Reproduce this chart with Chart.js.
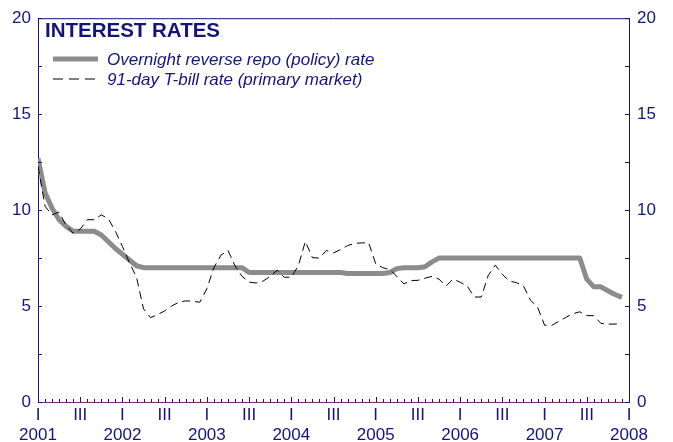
<!DOCTYPE html>
<html><head><meta charset="utf-8">
<script src="https://cdn.jsdelivr.net/npm/chart.js@4.4.1/dist/chart.umd.min.js"></script>
<style>html,body{margin:0;padding:0;background:#fff;overflow:hidden}#wrap{width:673px;height:442px;position:relative}canvas{display:block}</style>
</head><body><div id="wrap"><canvas id="c" width="673" height="442" style="width:673px;height:442px"></canvas></div>
<script>
// Monthly observations, Jan 2001 .. Dec 2007
const years = ['2001','2002','2003','2004','2005','2006','2007','2008'];
const halfYearLabels = ['I', 'III'];
const yTicks = [0, 5, 10, 15, 20];
const titleText = 'INTEREST RATES';
const seriesNames = ['Overnight reverse repo (policy) rate', '91-day T-bill rate (primary market)'];

const policyRate = [
  12.7, 10.9, 10.1, 9.5, 9.15, 8.9, 8.9, 8.9, 8.9, 8.7, 8.35, 8.0,
  7.7, 7.4, 7.1, 7.0, 7.0, 7.0, 7.0, 7.0, 7.0, 7.0, 7.0, 7.0,
  7.0, 7.0, 7.0, 7.0, 7.0, 7.0, 6.75, 6.75, 6.75, 6.75, 6.75, 6.75,
  6.75, 6.75, 6.75, 6.75, 6.75, 6.75, 6.75, 6.75, 6.7, 6.7, 6.7, 6.7,
  6.7, 6.7, 6.75, 6.95, 7.0, 7.0, 7.0, 7.05, 7.3, 7.5, 7.5, 7.5,
  7.5, 7.5, 7.5, 7.5, 7.5, 7.5, 7.5, 7.5, 7.5, 7.5, 7.5, 7.5,
  7.5, 7.5, 7.5, 7.5, 7.5, 7.5, 6.4, 6.0, 6.0, 5.8, 5.6, 5.45
];
const tbillRate = [
  12.3, 10.2, 9.75, 9.9, 9.2, 8.8, 9.0, 9.5, 9.5, 9.75, 9.55, 8.9,
  8.1, 7.26, 6.5, 4.85, 4.4, 4.55, 4.75, 5.0, 5.2, 5.27, 5.25, 5.2,
  5.9, 7.0, 7.65, 7.9, 7.1, 6.55, 6.25, 6.2, 6.3, 6.55, 6.87, 6.5,
  6.5, 7.1, 8.37, 7.52, 7.5, 7.9, 7.77, 7.94, 8.15, 8.27, 8.29, 8.3,
  7.2, 7.0, 6.9, 6.55, 6.15, 6.33, 6.34, 6.45, 6.55, 6.4, 6.04, 6.41,
  6.24, 6.05, 5.47, 5.47, 6.6, 7.13, 6.65, 6.3, 6.22, 6.05, 5.3, 4.95,
  4.0, 3.99, 4.2, 4.4, 4.6, 4.7, 4.5, 4.5, 4.1, 4.06, 4.06, 4.1
];

const NAVY = '#14147a';
const FONT = '"Liberation Sans", Arial, sans-serif';
const toXY = arr => arr.map((v, i) => ({x: i, y: v}));

const decor = {
  id: 'decor',
  afterDraw(chart) {
    const ctx = chart.ctx, a = chart.chartArea;
    const xs = chart.scales.x, yl = chart.scales.y;
    ctx.save();
    ctx.strokeStyle = NAVY; ctx.lineWidth = 1;
    ctx.beginPath(); ctx.moveTo(a.left, a.top + 0.5); ctx.lineTo(a.right, a.top + 0.5); ctx.stroke();
    for (let v = 0; v <= 20; v += 2.5) {
      const py = Math.round(yl.getPixelForValue(v)) + 0.5;
      ctx.beginPath();
      ctx.moveTo(a.left, py); ctx.lineTo(a.left + 4, py);
      ctx.moveTo(a.right - 4, py); ctx.lineTo(a.right, py);
      ctx.stroke();
    }
    for (let m = 0; m <= years.length * 12 - 12; m++) {
      const px = Math.round(xs.getPixelForValue(m)) + 0.5;
      const len = (m % 6 === 0) ? 5 : 3;
      ctx.beginPath(); ctx.moveTo(px, a.bottom); ctx.lineTo(px, a.bottom - len); ctx.stroke();
    }
    ctx.fillStyle = NAVY;
    ctx.font = 'bold 20.5px ' + FONT;
    ctx.textBaseline = 'alphabetic';
    ctx.textAlign = 'left';
    ctx.fillText(titleText, 45, 37);
    const ds = chart.data.datasets;
    const rows = [65, 85];
    ds.forEach((d, i) => {
      const ly = rows[i] - 6;
      ctx.save();
      ctx.strokeStyle = d.borderColor; ctx.lineWidth = d.borderWidth;
      ctx.setLineDash(d.borderDash ? [10, 6] : []);
      ctx.lineCap = 'butt';
      ctx.beginPath(); ctx.moveTo(53, ly); ctx.lineTo(98, ly); ctx.stroke();
      ctx.restore();
      ctx.fillStyle = NAVY;
      ctx.font = 'italic 17px ' + FONT;
      ctx.fillText(d.label, 107, rows[i]);
    });
    ctx.restore();
  }
};

new Chart(document.getElementById('c'), {
  type: 'line',
  data: {
    datasets: [
      { label: seriesNames[0], data: toXY(policyRate), borderColor: '#8c8c8c', borderWidth: 5,
        pointRadius: 0, tension: 0, borderCapStyle: 'butt', borderJoinStyle: 'round', order: 1 },
      { label: seriesNames[1], data: toXY(tbillRate), borderColor: '#000000', borderWidth: 1,
        borderDash: [8, 5], pointRadius: 0, tension: 0, order: 0 }
    ]
  },
  options: {
    responsive: false, animation: false, devicePixelRatio: 1,
    layout: { padding: { top: 11, left: 0, right: 0, bottom: 0 } },
    plugins: { legend: { display: false }, tooltip: { enabled: false }, title: { display: false } },
    scales: {
      x: {
        type: 'linear', min: 0, max: (years.length - 1) * 12,
        grid: { display: false, drawTicks: false },
        border: { display: true, color: '#7a2a6e', width: 1 },
        afterFit: s => { s.height = 40; },
        afterBuildTicks: s => { s.ticks = []; for (let m = 0; m <= (years.length - 1) * 12; m += 6) s.ticks.push({ value: m }); },
        ticks: {
          color: NAVY, padding: 3, maxRotation: 0, autoSkip: false,
          font: { family: FONT, size: 17, lineHeight: 1.18 },
          callback: v => (v % 12 === 0) ? [halfYearLabels[0], years[v / 12]] : [halfYearLabels[1], '']
        }
      },
      y: {
        position: 'left', min: 0, max: 20,
        afterBuildTicks: s => { s.ticks = yTicks.map(v => ({ value: v })); },
        grid: { display: false, drawTicks: false },
        border: { display: true, color: NAVY, width: 1 },
        afterFit: s => { s.width = 38; },
        ticks: { color: NAVY, padding: 7, font: { family: FONT, size: 17 } }
      },
      y2: {
        position: 'right', min: 0, max: 20,
        afterBuildTicks: s => { s.ticks = yTicks.map(v => ({ value: v })); },
        grid: { display: false, drawTicks: false },
        border: { display: true, color: NAVY, width: 1 },
        afterFit: s => { s.width = 44; },
        ticks: { color: NAVY, padding: 8, font: { family: FONT, size: 17 } }
      }
    }
  },
  plugins: [decor]
});
</script>
</body></html>
